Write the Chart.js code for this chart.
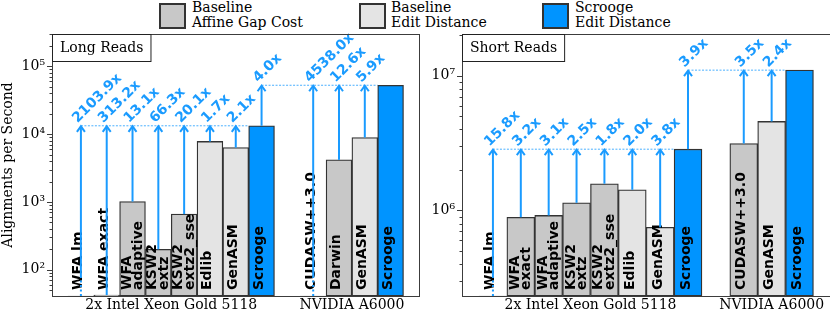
<!DOCTYPE html>
<html>
<head>
<meta charset="utf-8">
<script src="https://cdn.jsdelivr.net/npm/chart.js@4"></script>
<style>
  body { margin: 0; width: 830px; height: 315px; overflow: hidden; background: #fff; position: relative; font-family: "DejaVu Serif", serif; }
  canvas { position: absolute; top: 0; }
  .lg-box { position: absolute; top: 3px; width: 23px; height: 22px; border: 2px solid #333; }
  .lg-text { position: absolute; top: 0; font-size: 14px; line-height: 15px; color: #000; white-space: nowrap; }
</style>
</head>
<body>
<div class="lg-box" style="left:159px;background:#c8c8c8"></div>
<div class="lg-text" style="left:192px">Baseline<br>Affine Gap Cost</div>
<div class="lg-box" style="left:359px;background:#e4e4e4"></div>
<div class="lg-text" style="left:391px">Baseline<br>Edit Distance</div>
<div class="lg-box" style="left:542px;background:#0094ff"></div>
<div class="lg-text" style="left:575px">Scrooge<br>Edit Distance</div>

<canvas id="long" width="420" height="315" style="left:0;width:420px;height:315px"></canvas>
<canvas id="short" width="422" height="315" style="left:410px;width:422px;height:315px"></canvas>

<script>
// ! DATA
const groupTitles = ["2x Intel Xeon Gold 5118", "NVIDIA A6000"];

const longIntelNames = ["WFA lm", "WFA exact", "WFA\nadaptive", "KSW2\nextz", "KSW2\nextz2_sse", "Edlib", "GenASM", "Scrooge"];
const shortIntelNames = ["WFA lm", "WFA\nexact", "WFA\nadaptive", "KSW2\nextz", "KSW2\nextz2_sse", "Edlib", "GenASM", "Scrooge"];
const intelKinds = ["affine", "affine", "affine", "affine", "affine", "edit", "edit", "scrooge"];

const longGpuNames = ["CUDASW++3.0", "Darwin", "GenASM", "Scrooge"];
const longGpuKinds = ["affine", "affine", "edit", "scrooge"];
const shortGpuNames = ["CUDASW++3.0", "GenASM", "Scrooge"];
const shortGpuKinds = ["affine", "edit", "scrooge"];

// alignments per second
const longIntel = [6.3, 42.4, 1014, 200, 661, 7812, 6324, 13280];
const longGpu = [11.6, 4175, 8915, 52600];
const shortIntel = [180000, 891000, 919000, 1140000, 1580000, 1425000, 750000, 2850000];
const shortGpu = [3140000, 4580000, 11000000];

// speedup labels (last intel entry = intel Scrooge vs GPU Scrooge)
const longIntelSpeedup = ["2103.9x", "313.2x", "13.1x", "66.3x", "20.1x", "1.7x", "2.1x", "4.0x"];
const longGpuSpeedup = ["4538.0x", "12.6x", "5.9x"];
const shortIntelSpeedup = ["15.8x", "3.2x", "3.1x", "2.5x", "1.8x", "2.0x", "3.8x", "3.9x"];
const shortGpuSpeedup = ["3.5x", "2.4x"];

const longTicks = [1e2, 1e3, 1e4, 1e5];
const shortTicks = [1e6, 1e7];

// ! STYLE
const FILLS = { affine: "#c8c8c8", edit: "#e4e4e4", scrooge: "#0094ff" };
const ARROW = "#1a9bff";
const FRAME = "#3c3c3c";
const SERIF = "DejaVu Serif";
const SANS = "DejaVu Sans";

const sup = (n) => String(n).split("").map((d) => "⁰¹²³⁴⁵⁶⁷⁸⁹"[d]).join("");

function drawArrow(ctx, x, fromY, tipY, bottom) {
  ctx.strokeStyle = ARROW;
  ctx.lineWidth = 2;
  let startY = fromY;
  if (fromY >= bottom) {
    // value below the axis: dotted stub at the bottom
    ctx.setLineDash([2, 2.5]);
    ctx.beginPath();
    ctx.moveTo(x, bottom);
    ctx.lineTo(x, bottom - 18);
    ctx.stroke();
    ctx.setLineDash([]);
    startY = bottom - 18;
  }
  ctx.beginPath();
  ctx.moveTo(x, startY);
  ctx.lineTo(x, tipY + 1);
  ctx.stroke();
  ctx.beginPath();
  ctx.moveTo(x - 4, tipY + 6);
  ctx.lineTo(x, tipY + 0.5);
  ctx.lineTo(x + 4, tipY + 6);
  ctx.stroke();
}

const decorPlugin = {
  id: "decor",
  afterDatasetsDraw(chart) {
    const cfg = chart.options.plugins.decor;
    const { ctx, chartArea: area, scales } = chart;
    const bars = chart.getDatasetMeta(0).data;
    ctx.save();

    // level lines
    ctx.strokeStyle = ARROW;
    ctx.lineWidth = 0.8;
    ctx.setLineDash([2, 1.5]);
    cfg.levels.forEach((lv) => {
      const y = scales.y.getPixelForValue(cfg.values[lv.to]);
      ctx.beginPath();
      ctx.moveTo(bars[lv.from].x, y);
      ctx.lineTo(bars[lv.to].x - bars[lv.to].width / 2, y);
      ctx.stroke();
    });
    ctx.setLineDash([]);

    // bar names
    ctx.fillStyle = "#000";
    ctx.font = `bold 14px "${SANS}"`;
    ctx.textAlign = "left";
    ctx.textBaseline = "alphabetic";
    cfg.names.forEach((name, i) => {
      const lines = name.split("\n");
      ctx.save();
      ctx.translate(bars[i].x, area.bottom - 6);
      ctx.rotate(-Math.PI / 2);
      lines.forEach((line, k) => ctx.fillText(line, 0, 1.5 - (lines.length - 1) * 3.5 + k * 11.5));
      ctx.restore();
    });

    // speedup arrows
    cfg.arrows.forEach((a) => {
      const bar = bars[a.from];
      const tipY = scales.y.getPixelForValue(cfg.values[a.to]);
      const fromY = Math.min(bar.y, area.bottom + 1);
      drawArrow(ctx, bar.x, fromY, tipY, area.bottom);
      ctx.save();
      ctx.fillStyle = ARROW;
      ctx.font = `bold 14px "${SANS}"`;
      ctx.textAlign = "left";
      ctx.textBaseline = "middle";
      ctx.translate(bar.x - 6, tipY - 5);
      ctx.rotate(-Math.PI / 4);
      ctx.fillText(a.label, 0, 0);
      ctx.restore();
    });
    ctx.restore();
  },
  afterDraw(chart) {
    const cfg = chart.options.plugins.decor;
    const { ctx, chartArea: area, scales } = chart;
    const ys = scales.y;
    ctx.save();
    // y tick marks
    ctx.strokeStyle = FRAME;
    ctx.lineWidth = 1;
    const e0 = Math.floor(Math.log10(ys.min));
    const e1 = Math.ceil(Math.log10(ys.max));
    for (let e = e0; e <= e1; e++) {
      for (let m = 1; m <= 9; m++) {
        const v = m * Math.pow(10, e);
        if (v < ys.min || v > ys.max) continue;
        const y = Math.round(ys.getPixelForValue(v)) + 0.5;
        const len = m === 1 ? 5 : 2.5;
        ctx.beginPath();
        ctx.moveTo(area.left - len, y);
        ctx.lineTo(area.left, y);
        ctx.stroke();
      }
    }
    // frame
    ctx.strokeRect(Math.round(area.left) + 0.5, Math.round(area.top) + 0.5,
      Math.round(area.right - area.left), Math.round(area.bottom - area.top));

    // panel title box
    ctx.font = `14px "${SERIF}"`;
    const tw = ctx.measureText(cfg.title).width;
    const bx = Math.round(area.left) + 0.5;
    const by = Math.round(area.top) + 0.5;
    ctx.fillStyle = "#fff";
    ctx.fillRect(bx, by, tw + 15, 27);
    ctx.strokeStyle = "#222";
    ctx.strokeRect(bx, by, tw + 15, 27);
    ctx.fillStyle = "#000";
    ctx.textAlign = "left";
    ctx.textBaseline = "middle";
    ctx.fillText(cfg.title, bx + 7.5, by + 14);
    ctx.restore();
  },
};

function buildPanel(id, p) {
  const names = p.intelNames.concat(p.gpuNames);
  const kinds = intelKinds.concat(p.gpuKinds);
  const values = p.intel.concat(p.gpu);
  const gpuSlot = p.intel.length + 1; // one empty slot between groups
  const points = values.map((v, i) => ({ x: i < p.intel.length ? i : gpuSlot + i - p.intel.length, y: v }));

  const intelTop = p.intel.length - 1;
  const gpuTop = values.length - 1;
  const arrows = [];
  p.intelSpeedup.forEach((label, i) => arrows.push({ from: i, to: i < intelTop ? intelTop : gpuTop, label }));
  p.gpuSpeedup.forEach((label, j) => arrows.push({ from: p.intel.length + j, to: gpuTop, label }));
  const levels = [{ from: 0, to: intelTop }, { from: intelTop, to: gpuTop }];

  const groupCenters = [(p.intel.length - 1) / 2, gpuSlot + (p.gpu.length - 1) / 2];

  return new Chart(document.getElementById(id), {
    type: "bar",
    data: {
      datasets: [{
        data: points,
        backgroundColor: kinds.map((k) => FILLS[k]),
        borderColor: "#333",
        borderWidth: 1.3,
        borderSkipped: false,
        barPercentage: 1,
        categoryPercentage: 1,
      }],
    },
    options: {
      responsive: false,
      animation: false,
      devicePixelRatio: 1,
      layout: { padding: { top: 34, right: 1, left: 0, bottom: 0 } },
      plugins: {
        legend: { display: false },
        tooltip: { enabled: false },
        decor: { names, values, arrows, levels, title: p.title },
      },
      scales: {
        x: {
          type: "linear",
          min: p.xMin,
          max: p.xMax,
          offset: false,
          afterFit: (s) => { s.height = 19; },
          afterBuildTicks: (s) => { s.ticks = groupCenters.map((v) => ({ value: v })); },
          ticks: {
            callback: (v, i) => groupTitles[i],
            autoSkip: false,
            maxRotation: 0,
            padding: 1,
            color: "#000",
            font: { family: SERIF, size: 14 },
          },
          grid: { display: false, drawTicks: false },
          border: { display: false },
        },
        y: {
          type: "logarithmic",
          min: p.yMin,
          max: p.yMax,
          afterFit: (s) => { s.width = 52; },
          afterBuildTicks: (s) => { s.ticks = p.ticks.map((v) => ({ value: v })); },
          ticks: {
            callback: (v) => "10" + sup(Math.round(Math.log10(v))),
            autoSkip: false,
            padding: 7,
            color: "#000",
            font: { family: SERIF, size: 14 },
          },
          grid: { display: false, drawTicks: false },
          border: { display: false },
          title: {
            display: p.yTitle,
            text: "Alignments per Second",
            color: "#000",
            padding: 0,
            font: { family: SERIF, size: 14 },
          },
        },
      },
    },
    plugins: [decorPlugin],
  });
}

buildPanel("long", {
  title: "Long Reads",
  intelNames: longIntelNames,
  gpuNames: longGpuNames,
  gpuKinds: longGpuKinds,
  intel: longIntel,
  gpu: longGpu,
  intelSpeedup: longIntelSpeedup,
  gpuSpeedup: longGpuSpeedup,
  ticks: longTicks,
  yMin: 41,
  yMax: 3e5,
  xMin: -1.12,
  xMax: 13.1,
  yTitle: true,
});

buildPanel("short", {
  title: "Short Reads",
  intelNames: shortIntelNames,
  gpuNames: shortGpuNames,
  gpuKinds: shortGpuKinds,
  intel: shortIntel,
  gpu: shortGpu,
  intelSpeedup: shortIntelSpeedup,
  gpuSpeedup: shortGpuSpeedup,
  ticks: shortTicks,
  yMin: 2.32e5,
  yMax: 2.04e7,
  xMin: -1.11,
  xMax: 12.13,
  yTitle: false,
});
</script>
</body>
</html>
